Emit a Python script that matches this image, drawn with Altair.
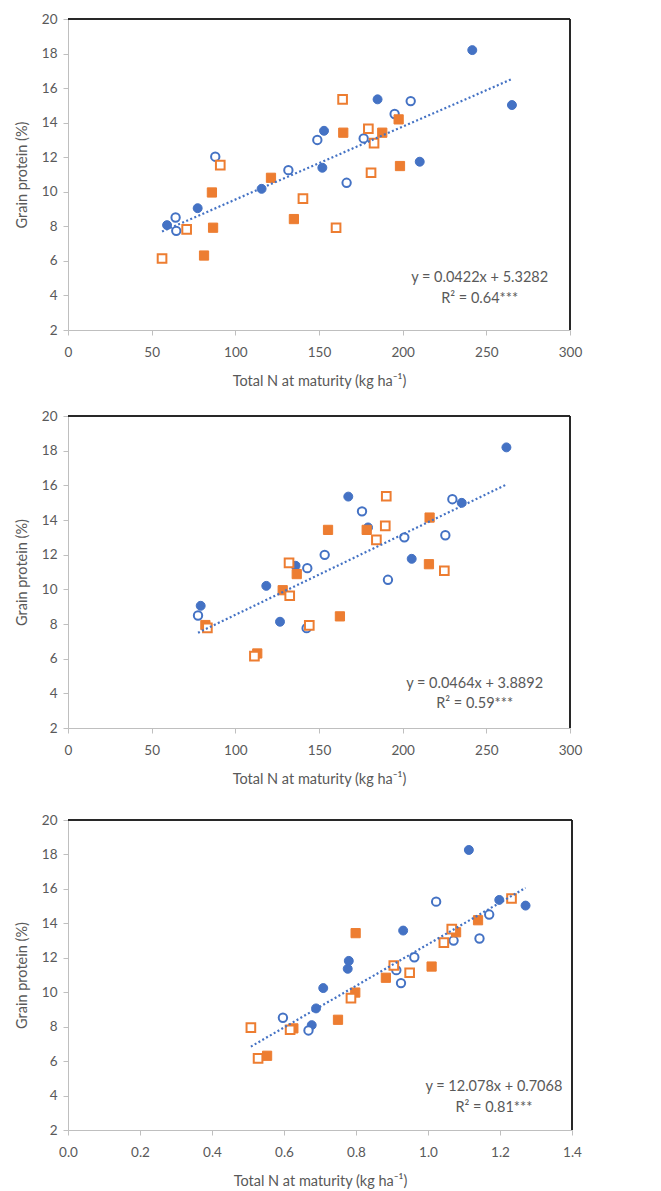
import altair as alt
import pandas as pd

# ---- data: (total N at maturity, grain protein %) per marker series ----
# Panel 1: total N (kg/ha)
p1_blue_filled = [(241.6, 18.2), (265.3, 15.02), (185.0, 15.35), (153.0, 13.53), (152.0, 11.39),
                  (210.2, 11.74), (115.7, 10.17), (77.5, 9.05), (59.2, 8.07)]
p1_blue_open = [(204.8, 15.25), (195.2, 14.5), (149.0, 13.0), (176.7, 13.09), (88.0, 12.03),
                (131.7, 11.25), (166.5, 10.52), (64.3, 8.51), (64.7, 7.74)]
p1_orange_filled = [(197.6, 14.19), (164.5, 13.42), (187.8, 13.42), (198.4, 11.49), (121.3, 10.81),
                    (86.0, 9.96), (86.7, 7.92), (135.0, 8.42), (81.3, 6.31)]
p1_orange_open = [(164.1, 15.35), (179.5, 13.65), (182.9, 12.82), (181.1, 11.1), (91.0, 11.54),
                  (140.4, 9.6), (160.2, 7.92), (70.9, 7.82), (56.2, 6.14)]

# Panel 2: total N (kg/ha)
p2_blue_filled = [(262.0, 18.19), (235.3, 14.99), (167.5, 15.35), (179.3, 13.57), (136.0, 11.36),
                  (205.4, 11.76), (118.5, 10.2), (79.3, 9.05), (126.7, 8.13)]
p2_blue_open = [(229.7, 15.2), (175.7, 14.5), (201.0, 13.0), (225.5, 13.12), (153.4, 11.99),
                (143.0, 11.22), (191.2, 10.55), (77.7, 8.49), (142.6, 7.76)]
p2_orange_filled = [(216.1, 14.14), (155.4, 13.43), (178.5, 13.43), (215.7, 11.45), (136.7, 10.88),
                    (128.3, 9.95), (162.5, 8.44), (82.1, 7.94), (113.1, 6.3)]
p2_orange_open = [(190.2, 15.37), (189.6, 13.66), (184.3, 12.85), (224.9, 11.07), (132.1, 11.53),
                  (132.5, 9.63), (144.2, 7.92), (83.3, 7.78), (111.4, 6.15)]

# Panel 3: total N (scaled)
p3_blue_filled = [(1.1135, 18.26), (1.271, 15.03), (1.198, 15.36), (0.931, 13.58), (0.780, 11.82),
                  (0.777, 11.36), (0.709, 10.24), (0.689, 9.06), (0.677, 8.09)]
p3_blue_open = [(1.0226, 15.26), (1.170, 14.51), (1.071, 13.0), (1.143, 13.12), (0.962, 12.03),
                (0.912, 11.28), (0.925, 10.53), (0.597, 8.52), (0.668, 7.78)]
p3_orange_filled = [(1.139, 14.18), (1.078, 13.48), (0.799, 13.43), (1.010, 11.49), (0.798, 9.98),
                    (0.883, 10.84), (0.750, 8.4), (0.626, 7.9), (0.553, 6.31)]
p3_orange_open = [(1.232, 15.44), (1.066, 13.66), (1.044, 12.88), (0.905, 11.55), (0.949, 11.13),
                  (0.786, 9.66), (0.617, 7.82), (0.508, 7.94), (0.528, 6.16)]

# Linear fits shown on each panel: slope, intercept, R² label
fits = [(0.0422, 5.3282, "0.64***"), (0.0464, 3.8892, "0.59***"), (12.078, 0.7068, "0.81***")]

# Equation label anchor (data coordinates)
label_pos = [(246, 5.0, 3.8), (243, 4.55, 3.4), (1.183, 4.5, 3.3)]

x_domains = [[0, 300], [0, 300], [0, 1.4]]
x_ticks = [[0, 50, 100, 150, 200, 250, 300], [0, 50, 100, 150, 200, 250, 300],
           [0.0, 0.2, 0.4, 0.6, 0.8, 1.0, 1.2, 1.4]]
x_formats = ["d", "d", ".1f"]
y_ticks = [2, 4, 6, 8, 10, 12, 14, 16, 18, 20]

BLUE = "#4472C4"
ORANGE = "#ED7D31"
TEXT = "#595959"
AXIS = "#BFBFBF"
FONT = "Lato"

panels = [
    (p1_blue_filled, p1_blue_open, p1_orange_filled, p1_orange_open),
    (p2_blue_filled, p2_blue_open, p2_orange_filled, p2_orange_open),
    (p3_blue_filled, p3_blue_open, p3_orange_filled, p3_orange_open),
]
widths = [502, 502, 504]
heights = [311, 312, 310]

# marker style per series: shape, fill, stroke, size, strokeWidth
styles = [
    ("circle", BLUE, BLUE, 80, 1),
    ("circle", "white", BLUE, 70, 2),
    ("square", ORANGE, ORANGE, 85, 1),
    ("square", "white", ORANGE, 75, 2),
]


def fmt(v):
    return f"{v:g}"


def build_panel(i):
    series = panels[i]
    W = widths[i]
    H = heights[i]
    xs = alt.X("x:Q",
               scale=alt.Scale(domain=x_domains[i], nice=False, zero=False),
               axis=alt.Axis(values=x_ticks[i], format=x_formats[i], labelFlush=False,
                             title="Total N at maturity (kg ha\u207b\u00b9)"))
    ys = alt.Y("y:Q",
               scale=alt.Scale(domain=[2, 20], nice=False, zero=False),
               axis=alt.Axis(values=y_ticks, labelFlush=False, title="Grain protein (%)"))

    layers = []
    for pts, (shape, fill, stroke, size, sw) in zip(series, styles):
        df = pd.DataFrame(pts, columns=["x", "y"])
        layers.append(
            alt.Chart(df).mark_point(shape=shape, fill=fill, stroke=stroke, size=size,
                                     strokeWidth=sw, opacity=1, fillOpacity=1)
            .encode(x=xs, y=ys)
        )

    # trend line from the fitted equation across the observed x range
    slope, intercept, r2 = fits[i]
    all_x = [p[0] for s in series for p in s]
    x0, x1 = min(all_x), max(all_x)
    line_df = pd.DataFrame({"x": [x0, x1], "y": [slope * x0 + intercept, slope * x1 + intercept]})
    layers.append(
        alt.Chart(line_df).mark_line(color=BLUE, strokeWidth=2.2, strokeDash=[2, 2.4])
        .encode(x=xs, y=ys)
    )

    # equation and R² labels
    lx, ly1, ly2 = label_pos[i]
    eq_df = pd.DataFrame({
        "x": [lx, lx],
        "y": [ly1, ly2],
        "t": [f"y = {fmt(slope)}x + {fmt(intercept)}", f"R\u00b2 = {r2}"],
    })
    layers.append(
        alt.Chart(eq_df).mark_text(font=FONT, fontSize=14.5, color=TEXT, align="center",
                                   baseline="middle")
        .encode(x=xs, y=ys, text="t:N")
    )

    # dark frame on the top and right sides of the plot area
    layers.append(
        alt.Chart(eq_df).mark_rule(color="#1a1a1a", strokeWidth=1.5)
        .encode(x=alt.value(0), x2=alt.value(W), y=alt.value(0))
    )
    layers.append(
        alt.Chart(eq_df).mark_rule(color="#1a1a1a", strokeWidth=1.5)
        .encode(x=alt.value(W), y=alt.value(0), y2=alt.value(H))
    )

    return alt.layer(*layers).properties(width=W, height=H)


p1, p2, p3 = [build_panel(i) for i in range(3)]

chart = alt.vconcat(p1, alt.vconcat(p2, p3, spacing=27), spacing=21).properties(
    padding={"left": 14, "top": 12, "right": 8, "bottom": 5}
).configure_view(stroke=None).configure_axis(
    grid=False,
    domainColor=AXIS,
    domainWidth=1,
    tickColor=AXIS,
    tickSize=5,
    labelColor=TEXT,
    labelFont=FONT,
    labelFontSize=13.5,
    labelPadding=6,
    titleColor=TEXT,
    titleFont=FONT,
    titleFontSize=14.5,
    titleFontWeight="normal",
).configure_axisX(
    labelPadding=10,
    titlePadding=16,
).configure_axisY(
    titlePadding=12,
)

chart.save("out.html", embed_options={"renderer": "svg", "actions": False})
